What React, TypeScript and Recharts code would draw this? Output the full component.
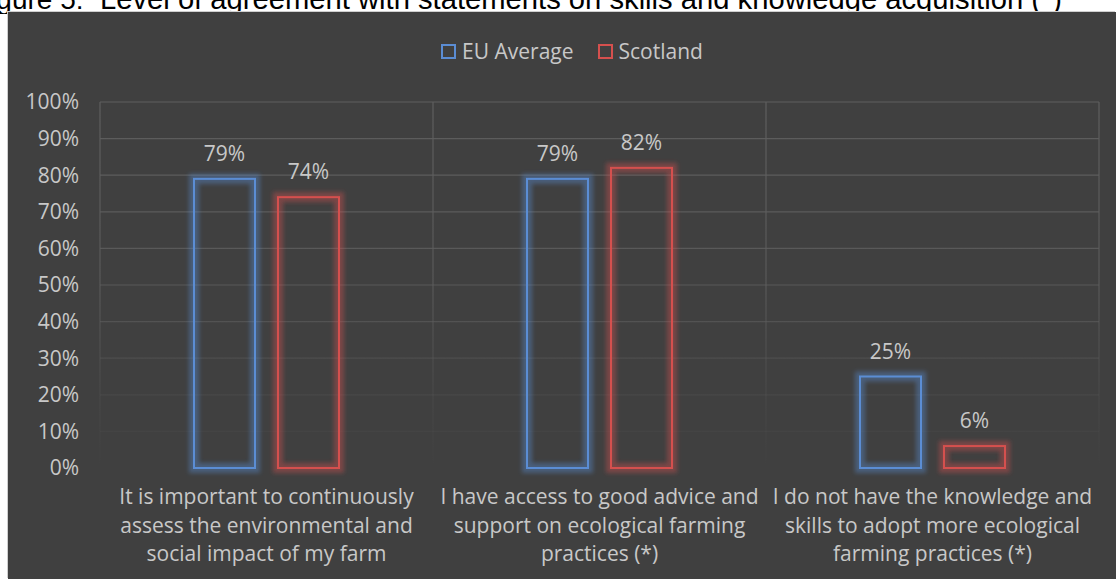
import React from 'react';
import { BarChart, Bar, XAxis, YAxis, CartesianGrid, Legend, LabelList } from 'recharts';

const titleLead = 'Figure 5:';
const titleText = 'Level of agreement with statements on skills and knowledge acquisition (*)';

const categories = [
  'It is important to continuously\nassess the environmental and\nsocial impact of my farm',
  'I have access to good advice and\nsupport on ecological farming\npractices (*)',
  'I do not have the knowledge and\nskills to adopt more ecological\nfarming practices (*)',
];
const seriesNames = ['EU Average', 'Scotland'];
const euAverage = [79, 79, 25];
const scotland = [74, 82, 6];
const yTicks = [0, 10, 20, 30, 40, 50, 60, 70, 80, 90, 100];

const COLORS = ['#5b8dd4', '#d5504e'];
const TEXT = '#c8c8c8';
const FONT = '"Open Sans", "Noto Sans", sans-serif';
const FS = 21;

const data = categories.map((c, i) => ({ category: c, eu: euAverage[i], scotland: scotland[i] }));

const makeShape = (color: string) => (props: any) => {
  const { x, y, width, height } = props;
  if (width == null || height == null) return null;
  return (
    <g>
      <rect x={x} y={y} width={width} height={height} fill="none" stroke={color}
        strokeWidth={10} strokeOpacity={0.4} filter="url(#softBlur)" />
      <rect x={x} y={y} width={width} height={height} fill="none" stroke={color} strokeWidth={2} />
    </g>
  );
};

const CategoryTick = (props: any) => {
  const { x, y, payload } = props;
  const lines = String(payload.value).split('\n');
  return (
    <text x={x} y={y} textAnchor="middle" fill={TEXT} fontSize={FS} fontFamily={FONT}>
      {lines.map((l, i) => (
        <tspan key={i} x={x} dy={i === 0 ? 36 : 28.5}>{l}</tspan>
      ))}
    </text>
  );
};

const renderLegend = () => (
  <div style={{ display: 'flex', justifyContent: 'center', alignItems: 'center', fontFamily: FONT, fontSize: FS, lineHeight: '24px', color: TEXT }}>
    {seriesNames.map((n, i) => (
      <div key={n} style={{ display: 'flex', alignItems: 'center', marginRight: i === 0 ? 24 : 0 }}>
        <span style={{ display: 'inline-block', width: 15, height: 15, boxSizing: 'border-box', border: `2px solid ${COLORS[i]}`, marginRight: 6 }} />
        <span>{n}</span>
      </div>
    ))}
  </div>
);

export default function App() {
  return (
    <div style={{ position: 'absolute', left: 0, top: 0, width: 1116, height: 579, background: '#ffffff', overflow: 'hidden' }}>
      <svg width={0} height={0} style={{ position: 'absolute' }}>
        <defs>
          <filter id="softBlur" x="-50%" y="-50%" width="200%" height="200%">
            <feGaussianBlur in="SourceGraphic" stdDeviation="2" />
          </filter>
          <linearGradient id="gridFade" gradientUnits="userSpaceOnUse" x1="0" y1="90" x2="0" y2="456">
            <stop offset="0" stopColor="#5e5e5e" stopOpacity="1" />
            <stop offset="0.5" stopColor="#5e5e5e" stopOpacity="0.8" />
            <stop offset="0.8" stopColor="#5e5e5e" stopOpacity="0.25" />
            <stop offset="1" stopColor="#5e5e5e" stopOpacity="0" />
          </linearGradient>
        </defs>
      </svg>
      <svg width={1116} height={14} style={{ position: 'absolute', left: 0, top: 0 }}>
        <text x={-27} y={9} fontFamily='"Liberation Sans", Arial, sans-serif' fontSize={28} fill="#000">{titleLead}</text>
        <text x={100} y={9} fontFamily='"Liberation Sans", Arial, sans-serif' fontSize={29.2} fill="#000">{titleText}</text>
      </svg>
      <div style={{ position: 'absolute', left: 8, top: 12, width: 1108, height: 567, background: '#404040', boxShadow: '-1px -1px 0 #cfcfcf' }}>
        <BarChart width={1108} height={567} data={data} margin={{ top: 90, right: 17, bottom: 0, left: 0 }} barSize={61} barGap={23}>
          <CartesianGrid stroke="url(#gridFade)" strokeWidth={1.2}
            verticalCoordinatesGenerator={({ offset }: any) => {
              const n = categories.length;
              return Array.from({ length: n + 1 }, (_, i) => offset.left + (offset.width * i) / n);
            }} />
          <XAxis dataKey="category" axisLine={false} tickLine={false} tickSize={0} tickMargin={0} height={111} interval={0} tick={<CategoryTick />} />
          <YAxis domain={[0, 100]} ticks={yTicks} axisLine={false} tickLine={false} tickSize={0} tickMargin={21} width={92}
            tickFormatter={(v: number) => `${v}%`} tick={{ fill: TEXT, fontSize: FS, fontFamily: FONT }} />
          <Legend verticalAlign="middle" align="center" content={renderLegend} wrapperStyle={{ top: 27, left: 0, width: 1128, height: 24 }} />
          <Bar dataKey="eu" name={seriesNames[0]} fill="none" stroke={COLORS[0]} isAnimationActive={false} shape={makeShape(COLORS[0])}>
            <LabelList dataKey="eu" position="top" offset={18} formatter={(v: any) => `${v}%`} fill={TEXT} fontSize={FS} fontFamily={FONT} />
          </Bar>
          <Bar dataKey="scotland" name={seriesNames[1]} fill="none" stroke={COLORS[1]} isAnimationActive={false} shape={makeShape(COLORS[1])}>
            <LabelList dataKey="scotland" position="top" offset={18} formatter={(v: any) => `${v}%`} fill={TEXT} fontSize={FS} fontFamily={FONT} />
          </Bar>
        </BarChart>
      </div>
    </div>
  );
}
